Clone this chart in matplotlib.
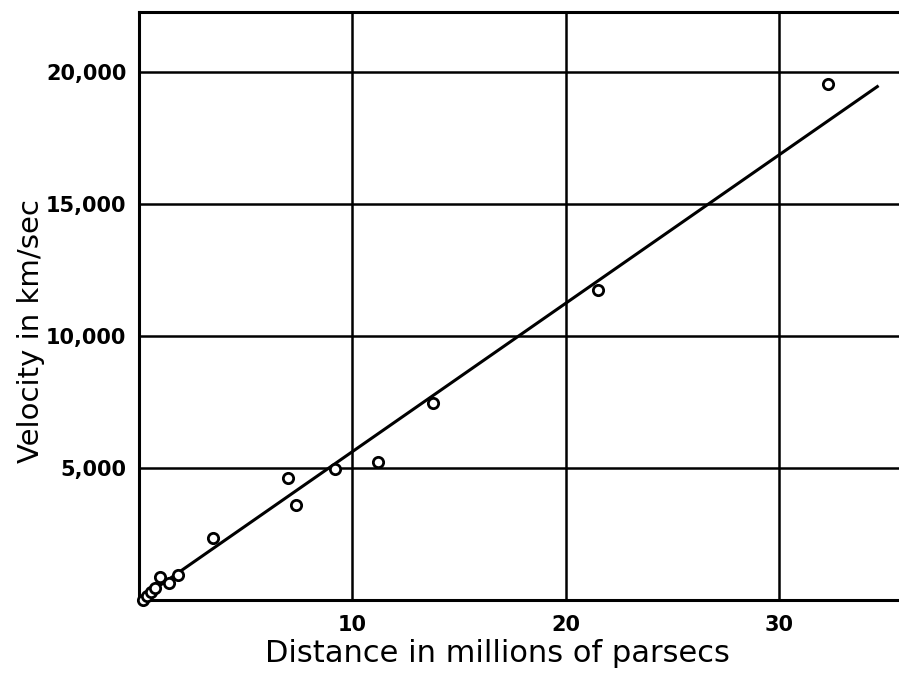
import matplotlib
matplotlib.use("Agg")
import matplotlib.pyplot as plt
import numpy as np

# Data
distance_mpc = [0.2, 0.38, 0.56, 0.75, 0.99, 1.41, 1.83, 3.47, 7.0, 7.37, 9.2, 11.2, 13.8, 21.5, 32.3]
velocity_kms = [0, 150, 300, 455, 870, 645, 950, 2350, 4620, 3600, 4960, 5230, 7460, 11740, 19545]
fit_x = [0.0, 34.6]
fit_slope = 562.0
x_ticks = [10, 20, 30]
y_ticks = [5000, 10000, 15000, 20000]
y_tick_labels = ["5,000", "10,000", "15,000", "20,000"]

plt.rcParams['font.family'] = ['DejaVu Sans']

fig = plt.figure(figsize=(8.99, 6.75), dpi=100)
ax = fig.add_axes([139/899, 75/675, 1 - 139/899 + 0.002, (600-12)/675])

ax.set_xlim(0, 35.7)
ax.set_ylim(0, 22270)

ax.set_xticks(x_ticks)
ax.set_xticklabels([str(t) for t in x_ticks], fontsize=15, fontweight='bold')
ax.set_yticks(y_ticks)
ax.set_yticklabels(y_tick_labels, fontsize=15, fontweight='bold')
ax.tick_params(axis='y', length=0, pad=9)
ax.tick_params(axis='x', length=0, pad=11)

ax.grid(True, color='black', linewidth=1.8)
ax.set_axisbelow(True)

for side in ['left', 'bottom', 'top']:
    ax.spines[side].set_linewidth(2.2)
ax.spines['right'].set_visible(False)

fx = np.array(fit_x)
ax.plot(fx, fit_slope * fx, color='black', linewidth=2.2, zorder=3)
ax.scatter(distance_mpc, velocity_kms, s=55, facecolors='white', edgecolors='black',
           linewidths=2.0, zorder=4, clip_on=False)

ax.set_xlabel("Distance in millions of parsecs", fontsize=22)
ax.xaxis.set_label_coords(0.47, -0.066)
ax.set_ylabel("Velocity in km/sec", fontsize=21)
ax.yaxis.set_label_coords(-0.123, 0.457)

fig.savefig("out.png", dpi=100)
